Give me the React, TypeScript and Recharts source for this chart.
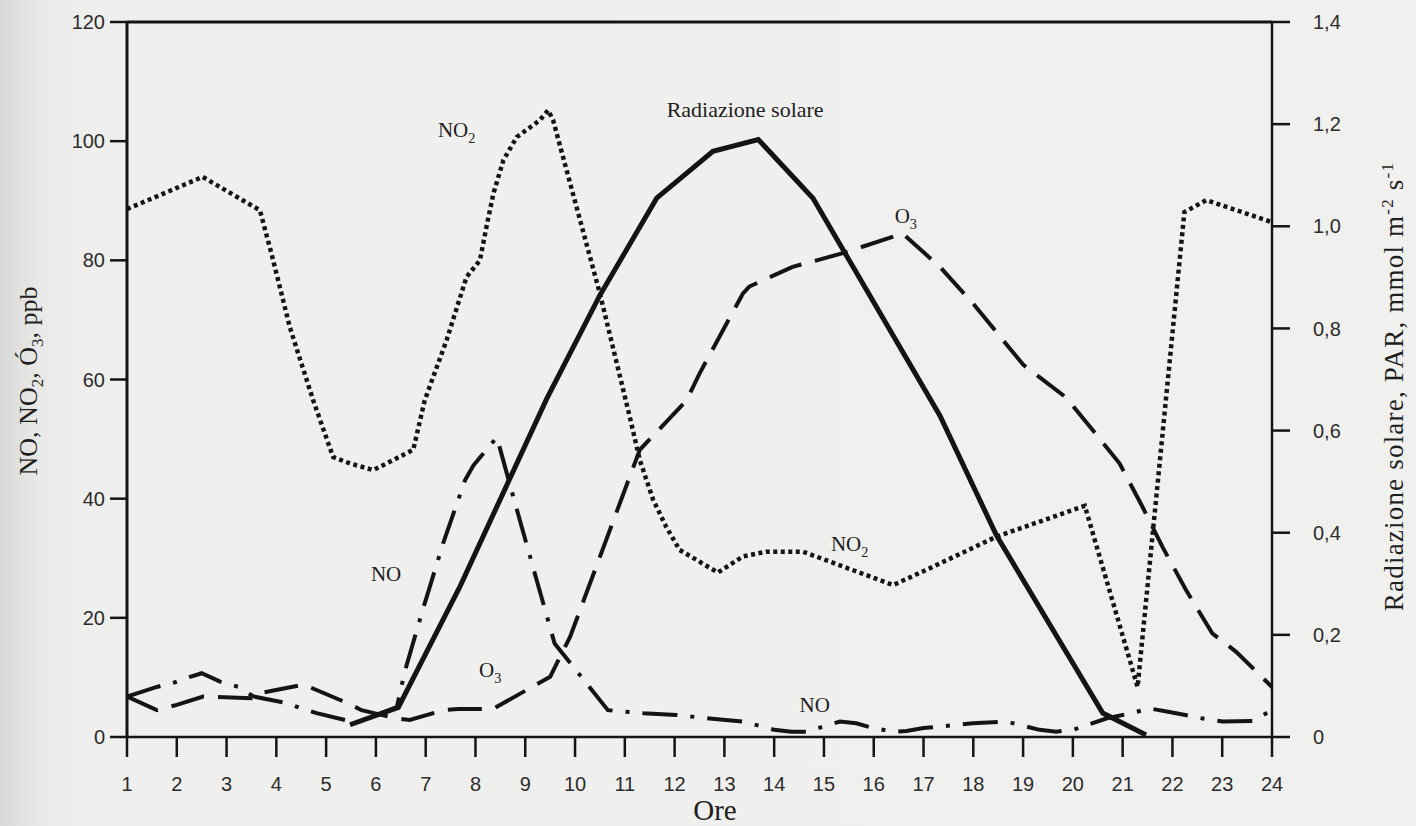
import React from 'react';
import { LineChart, Line, XAxis, YAxis, ReferenceLine, ReferenceDot, Label } from 'recharts';

// Hours (x axis ticks)
const HOURS = [1, 2, 3, 4, 5, 6, 7, 8, 9, 10, 11, 12, 13, 14, 15, 16, 17, 18, 19, 20, 21, 22, 23, 24];
const LEFT_TICKS = [0, 20, 40, 60, 80, 100, 120];
const RIGHT_TICKS = [0, 0.2, 0.4, 0.6, 0.8, 1.0, 1.2, 1.4];

// [hour, ppb]
const NO2_POINTS: [number, number][] = [
  [1, 88.6], [2.52, 94.0], [3.67, 88.4], [3.9, 81.2], [4.27, 68.8], [4.74, 56.5], [5.14, 47.0],
  [5.48, 45.9], [5.95, 44.8], [6.75, 48.2], [6.98, 56.5], [7.42, 66.6], [7.82, 77.2], [8.09, 80.0],
  [8.22, 85.6], [8.36, 91.2], [8.56, 96.8], [8.83, 100.7], [9.29, 103.5], [9.46, 105.2], [9.56, 103.5],
  [10.5, 74.4], [11.1, 53.7], [11.3, 46.5], [11.57, 39.8], [11.83, 35.3], [12.1, 31.4], [12.87, 27.6],
  [13.37, 30.3], [13.84, 31.1], [14.58, 31.1], [16.39, 25.5], [17.12, 28.3], [18.46, 33.6],
  [20.24, 38.8], [21.3, 8.4], [22.24, 88.1], [22.68, 90.1], [24, 86.4],
];

// [hour, ppb]
const O3_POINTS: [number, number][] = [
  [1, 6.8], [1.6, 4.5], [2.0, 5.4], [2.53, 6.8], [3.5, 6.5], [3.7, 7.4], [4.55, 8.8], [5.48, 5.5],
  [5.71, 4.5], [6.42, 3.1], [6.68, 2.85], [7.35, 4.5], [7.65, 4.7], [8.35, 4.7], [9.03, 7.9],
  [9.5, 10.1], [9.7, 13.5], [9.9, 16.8], [11.3, 48.2], [12.24, 56.5], [12.5, 61.0], [13.37, 74.4],
  [13.5, 75.6], [14.37, 78.9], [15.38, 81.2], [16.58, 84.5], [17.33, 78.9], [18.0, 72.7],
  [19.0, 62.5], [19.86, 57.0], [20.34, 52.1], [20.94, 45.9], [21.4, 38.6], [21.8, 31.9],
  [22.27, 24.7], [22.8, 17.4], [23.28, 14.3], [24, 8.4],
];

// [hour, ppb]
const NO_POINTS: [number, number][] = [
  [1, 6.8], [1.6, 8.4], [1.93, 9.1], [2.27, 10.1], [2.5, 10.7], [2.87, 9.3], [3.24, 8.4], [3.54, 6.8],
  [4.21, 5.7], [4.47, 4.9], [4.81, 4.0], [5.41, 2.8], [5.6, 2.4], [6.42, 5.0], [6.58, 11], [6.95, 21.6],
  [7.35, 32.5], [7.79, 43.1], [7.96, 45.6], [8.43, 50.3], [8.76, 40.3], [9.23, 26.3], [9.59, 15.7],
  [10.26, 8.7], [10.66, 4.5], [11.37, 4.0], [12.04, 3.7], [12.7, 3.1], [13.38, 2.6], [14.0, 1.2],
  [14.35, 0.9], [14.65, 0.9], [15.32, 2.6], [15.65, 2.3], [15.99, 1.5], [16.39, 0.9], [16.66, 1.0],
  [17.0, 1.5], [17.99, 2.3], [18.66, 2.6], [19.33, 1.2], [19.67, 0.9], [20.0, 1.2], [20.67, 3.1],
  [21.27, 4.2], [21.54, 4.8], [21.94, 4.2], [22.61, 3.1], [23.01, 2.6], [23.61, 2.7], [24, 4.5],
];

// [hour, mmol m-2 s-1]
const RAD_POINTS: [number, number][] = [
  [5.48, 0.024], [6.45, 0.058], [7.69, 0.295], [9.43, 0.662], [10.5, 0.865], [11.64, 1.055],
  [12.77, 1.147], [13.68, 1.17], [14.78, 1.055], [17.33, 0.629], [18.47, 0.394], [20.6, 0.047],
  [21.47, 0.004],
];

// In-plot annotations: [main text, subscript, hour, ppb]
const ANNOTATIONS: [string, string, number, number][] = [
  ['NO', '2', 7.245, 100.7],
  ['Radiazione solare', '', 11.84, 104.0],
  ['O', '3', 16.42, 86.2],
  ['NO', '', 5.9, 26.1],
  ['O', '3', 8.07, 10.1],
  ['NO', '2', 15.14, 31.2],
  ['NO', '', 14.51, 4.2],
];

const toRows = (pts: [number, number][]) => pts.map(([h, v]) => ({ h, v }));
const no2Data = toRows(NO2_POINTS);
const o3Data = toRows(O3_POINTS);
const noData = toRows(NO_POINTS);
const radData = toRows(RAD_POINTS);

const SERIF = '"Liberation Serif", "Times New Roman", serif';
const SANS = '"Liberation Sans", Arial, sans-serif';
const INK = '#141414';

const tickStyle = { fontFamily: SANS, fontSize: 20, fill: '#2c2c2c' };

const makeAnnShape = (main: string, sub: string, size: number) => (p: any) => (
  <text x={p.cx} y={p.cy} fontFamily={SERIF} fontSize={size} fill="#1e1e1e">
    {main}
    {sub ? (
      <tspan dy={6} fontSize={size * 0.68}>
        {sub}
      </tspan>
    ) : null}
  </text>
);

const OreLabel = (props: any) => {
  const vb = props.viewBox || { x: 0, y: 0, width: 0, height: 0 };
  return (
    <text x={vb.x + vb.width / 2 + 15.5} y={vb.y + 83} textAnchor="middle" fontFamily={SERIF} fontSize={29} fill="#1e1e1e">
      Ore
    </text>
  );
};

const LeftLabel = (props: any) => {
  const vb = props.viewBox || { x: 0, y: 0, width: 0, height: 0 };
  const x = vb.x - 10;
  const y = vb.y + vb.height / 2 + 1.5;
  return (
    <text x={x} y={y} transform={`rotate(-90, ${x}, ${y})`} textAnchor="middle" fontFamily={SERIF} fontSize={26} fill="#1e1e1e">
      NO, NO<tspan dy={6} fontSize={17}>2</tspan>
      <tspan dy={-6}>, Ó</tspan>
      <tspan dy={6} fontSize={17}>3</tspan>
      <tspan dy={-6}>, ppb</tspan>
    </text>
  );
};

const RightLabel = (props: any) => {
  const vb = props.viewBox || { x: 0, y: 0, width: 0, height: 0 };
  const x = vb.x + 131;
  const y = vb.y + vb.height / 2 + 7;
  return (
    <text
      x={x}
      y={y}
      transform={`rotate(-90, ${x}, ${y})`}
      textAnchor="middle"
      fontFamily={SERIF}
      fontSize={27}
      letterSpacing={1.2}
      fill="#1e1e1e"
    >
      Radiazione solare, PAR, mmol m<tspan dy={-10} fontSize={17}>-2</tspan>
      <tspan dy={10}> s</tspan>
      <tspan dy={-10} fontSize={17}>-1</tspan>
    </text>
  );
};

const fmtRight = (v: number) => (v === 0 ? '0' : v.toFixed(1).replace('.', ','));

export default function App() {
  return (
    <div
      style={{
        position: 'absolute',
        left: 0,
        top: 0,
        width: 1416,
        height: 826,
        background: 'linear-gradient(to right, #d9d9d7 0px, #e9e9e7 40px, #efefed 90px, #f0f0ee 100%)',
      }}
    >
      <LineChart width={1416} height={826} margin={{ top: 22, right: 0, bottom: 0, left: 47 }}>
        <XAxis
          xAxisId="x"
          dataKey="h"
          type="number"
          domain={[1, 24]}
          ticks={HOURS}
          interval={0}
          allowDataOverflow
          height={89}
          tickSize={20}
          tickMargin={20}
          tick={tickStyle}
          axisLine={{ stroke: INK, strokeWidth: 2.5 }}
          tickLine={{ stroke: INK, strokeWidth: 2.5 }}
        >
          <Label content={OreLabel} />
        </XAxis>
        <YAxis
          yAxisId="left"
          orientation="left"
          domain={[0, 120]}
          ticks={LEFT_TICKS}
          interval={0}
          allowDataOverflow
          width={80}
          tickSize={17}
          tickMargin={5}
          tick={tickStyle}
          axisLine={{ stroke: INK, strokeWidth: 3 }}
          tickLine={{ stroke: INK, strokeWidth: 2.5 }}
        >
          <Label content={LeftLabel} />
        </YAxis>
        <YAxis
          yAxisId="right"
          orientation="right"
          domain={[0, 1.4]}
          ticks={RIGHT_TICKS}
          interval={0}
          allowDataOverflow
          width={144}
          tickSize={18}
          tickMargin={23}
          tickFormatter={fmtRight}
          tick={tickStyle}
          axisLine={{ stroke: INK, strokeWidth: 2.5 }}
          tickLine={{ stroke: INK, strokeWidth: 2.5 }}
        >
          <Label content={RightLabel} />
        </YAxis>

        <ReferenceLine xAxisId="x" yAxisId="left" y={120} stroke={INK} strokeWidth={3} />

        <Line
          xAxisId="x"
          yAxisId="left"
          data={no2Data}
          dataKey="v"
          type="linear"
          stroke={INK}
          strokeWidth={4.5}
          strokeDasharray="4 3.5"
          dot={false}
          activeDot={false}
          isAnimationActive={false}
        />
        <Line
          xAxisId="x"
          yAxisId="left"
          data={o3Data}
          dataKey="v"
          type="linear"
          stroke={INK}
          strokeWidth={4}
          strokeDasharray="34 14"
          dot={false}
          activeDot={false}
          isAnimationActive={false}
        />
        <Line
          xAxisId="x"
          yAxisId="left"
          data={noData}
          dataKey="v"
          type="linear"
          stroke={INK}
          strokeWidth={4}
          strokeDasharray="35 13 4 13"
          dot={false}
          activeDot={false}
          isAnimationActive={false}
        />
        <Line
          xAxisId="x"
          yAxisId="right"
          data={radData}
          dataKey="v"
          type="linear"
          stroke={INK}
          strokeWidth={5}
          dot={false}
          activeDot={false}
          isAnimationActive={false}
        />

        {ANNOTATIONS.map(([main, sub, h, v], i) => (
          <ReferenceDot
            key={i}
            xAxisId="x"
            yAxisId="left"
            x={h}
            y={v}
            r={0}
            shape={makeAnnShape(main, sub, main.length > 3 ? 22 : 21)}
          />
        ))}
      </LineChart>
    </div>
  );
}
